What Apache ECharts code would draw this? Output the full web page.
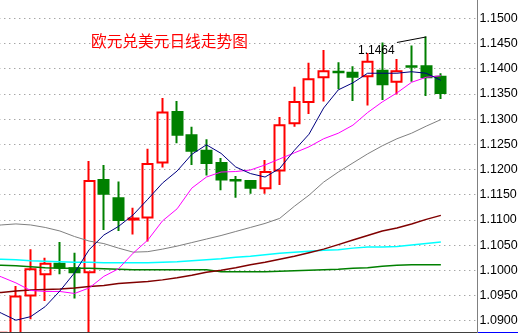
<!DOCTYPE html>
<html><head><meta charset="utf-8">
<script src="https://cdn.jsdelivr.net/npm/echarts@6/dist/echarts.min.js"></script>
<style>html,body{margin:0;padding:0;background:#fff}#c{width:521px;height:333px}</style>
</head><body><div id="c"></div>
<script>
const categories = Array.from({length: 34}, (_, i) => 'D' + (i + 1));
const opens  = [null, 1.0845, 1.0860, 1.0950, 1.0992, 1.1013, 1.1004, 1.0996, 1.1179, 1.1143, 1.1101, 1.1105, 1.1214, 1.1314, 1.1268, 1.1237, 1.1213, 1.1179, 1.1177, 1.1163, 1.1198, 1.1292, 1.1334, 1.1383, 1.1394, 1.1392, 1.1385, 1.1396, 1.1374, 1.1405, 1.1405, 1.1384, null, null];
const closes = [null, 1.0876, 1.0948, 1.1002, 1.1013, 1.1006, 1.0996, 1.1177, 1.1152, 1.1100, 1.1103, 1.1211, 1.1313, 1.1269, 1.1237, 1.1213, 1.1180, 1.1178, 1.1164, 1.1195, 1.1288, 1.1334, 1.1379, 1.1395, 1.1393, 1.1384, 1.1414, 1.1369, 1.1395, 1.1404, 1.1383, 1.1352, null, null];
const lows   = [null, 1.0835, 1.0850, 1.0903, 1.0939, 1.0992, 1.0944, 1.0870, 1.1080, 1.1078, 1.1071, 1.1057, 1.1204, 1.1252, 1.1209, 1.1188, 1.1159, 1.1144, 1.1152, 1.1152, 1.1169, 1.1285, 1.1310, 1.1335, 1.1359, 1.1336, 1.1327, 1.1338, 1.1349, 1.1374, 1.1346, 1.1340, null, null];
const highs  = [null, 1.0878, 1.0969, 1.1042, 1.1025, 1.1056, 1.1035, 1.1217, 1.1209, 1.1176, 1.1124, 1.1241, 1.1342, 1.1336, 1.1285, 1.1260, 1.1223, 1.1187, 1.1179, 1.1219, 1.1304, 1.1364, 1.1412, 1.1437, 1.1413, 1.1405, 1.1431, 1.1452, 1.1419, 1.1446, 1.1464, 1.1391, null, null];

const maNavy    = [1.0929, 1.0915, 1.0901, 1.0908, 1.0928, 1.0959, 1.0995, 1.1041, 1.1070, 1.1087, 1.1110, 1.1141, 1.1173, 1.1197, 1.1230, 1.1249, 1.1232, 1.1205, 1.1192, 1.1185, 1.1202, 1.1238, 1.1270, 1.1322, 1.1358, 1.1372, 1.1391, 1.1391, 1.1391, 1.1394, 1.1391, 1.1377, null, null];
const maMagenta = [1.0997, 1.0987, 1.0975, 1.0960, 1.0958, 1.0958, 1.0954, 1.0965, 1.0988, 1.1003, 1.1034, 1.1060, 1.1098, 1.1122, 1.1163, 1.1185, 1.1195, 1.1196, 1.1199, 1.1209, 1.1221, 1.1233, 1.1245, 1.1261, 1.1272, 1.1288, 1.1313, 1.1334, 1.1352, 1.1373, 1.1383, 1.1386, null, null];
const maGray    = [1.1087, 1.1090, 1.1092, 1.1090, 1.1085, 1.1078, 1.1067, 1.1058, 1.1053, 1.1044, 1.1036, 1.1037, 1.1042, 1.1048, 1.1055, 1.1062, 1.1069, 1.1077, 1.1085, 1.1093, 1.1103, 1.1127, 1.1149, 1.1175, 1.1195, 1.1213, 1.1231, 1.1247, 1.1261, 1.1272, 1.1286, 1.1299, null, null];
const maMaroon  = [1.0954, 1.0956, 1.0959, 1.0961, 1.0962, 1.0963, 1.0965, 1.0968, 1.0970, 1.0974, 1.0976, 1.0978, 1.0981, 1.0985, 1.0990, 1.0996, 1.1000, 1.1005, 1.1011, 1.1016, 1.1022, 1.1028, 1.1035, 1.1042, 1.1051, 1.1060, 1.1069, 1.1078, 1.1084, 1.1092, 1.1101, 1.1109, null, null];
const maCyan    = [1.1022, 1.1022, 1.1021, 1.1019, 1.1018, 1.1017, 1.1016, 1.1016, 1.1015, 1.1015, 1.1015, 1.1015, 1.1016, 1.1017, 1.1019, 1.1021, 1.1023, 1.1026, 1.1028, 1.1031, 1.1034, 1.1036, 1.1038, 1.1040, 1.1041, 1.1044, 1.1046, 1.1046, 1.1047, 1.1050, 1.1053, 1.1056, null, null];
const maGreen   = [1.1010, 1.1010, 1.1009, 1.1007, 1.1005, 1.1004, 1.1004, 1.1004, 1.1003, 1.1002, 1.1001, 1.1001, 1.1001, 1.1001, 1.1001, 1.1001, 1.0997, 1.0997, 1.0997, 1.0997, 1.0998, 1.0999, 1.1000, 1.1001, 1.1002, 1.1004, 1.1005, 1.1008, 1.1010, 1.1011, 1.1011, 1.1011, null, null];
const topLine   = [null, null, null, null, null, null, null, null, null, null, null, null, null, null, null, null, null, null, null, null, null, null, null, null, null, null, null, null, 1.1452, null, 1.1463, null, null, null];

const titleText = '欧元兑美元日线走势图';
const peakText = '1.1464';
const yMin = 1.085, yMax = 1.155, yStep = 0.005;

const candleData = categories.map((_, i) => opens[i] == null ? ['-', '-', '-', '-'] : [opens[i], closes[i], lows[i], highs[i]]);

function lineSeries(data, color, width) {
  return { type: 'line', data: data, showSymbol: false, symbol: 'none', smooth: false,
    connectNulls: true, lineStyle: { color: color, width: width }, z: 3, silent: true };
}

const chart = echarts.init(document.getElementById('c'), null, { renderer: 'canvas' });
chart.setOption({
  backgroundColor: '#ffffff',
  animation: false,
  title: { text: titleText, left: 91, top: 33, padding: 0,
    textStyle: { color: '#ff0000', fontSize: 15.7, fontWeight: 'normal', fontFamily: 'Noto Sans CJK SC', lineHeight: 16 } },
  grid: { left: -20.7, right: 43.5, top: -6.9, bottom: -12.9, containLabel: false, outerBoundsMode: 'none' },
  xAxis: { type: 'category', data: categories, boundaryGap: true,
    axisLine: { show: false }, axisTick: { show: false }, axisLabel: { show: false }, splitLine: { show: false } },
  yAxis: { type: 'value', position: 'right', min: yMin, max: yMax, interval: yStep,
    axisLine: { show: true, lineStyle: { color: '#808080', width: 1 } },
    axisTick: { show: false },
    axisLabel: { show: true, margin: 2, color: '#000', fontFamily: 'Liberation Sans', fontSize: 12.5,
      showMinLabel: false, showMaxLabel: false, padding: [7, 0, 0, 0],
      formatter: v => v.toFixed(4) },
    splitLine: { show: true, lineStyle: { color: '#808080', type: [1, 4], width: 1 } } },
  graphic: [
    { type: 'line', shape: { x1: 0, y1: 332.5, x2: 477, y2: 332.5 }, style: { stroke: '#404040', lineWidth: 1 }, z: 10 },
    { type: 'line', shape: { x1: 478, y1: 332.5, x2: 518, y2: 332.5 }, style: { stroke: '#0000ff', lineWidth: 1 }, z: 10 },
    { type: 'text', x: 358, y: 51, style: { text: peakText, fill: '#000', font: '12px "Liberation Sans"', textVerticalAlign: 'middle' }, z: 10 }
  ],
  series: [
    { type: 'candlestick', data: candleData, barWidth: 10.5,
      itemStyle: { color: 'transparent', color0: '#008000', borderColor: '#ff0000', borderColor0: '#008000', borderWidth: 2 }, z: 2 },
    lineSeries(maGreen, '#008000', 1.5),
    lineSeries(maCyan, '#00ffff', 1.5),
    lineSeries(maMaroon, '#800000', 1.5),
    lineSeries(maGray, '#808080', 1),
    lineSeries(maMagenta, '#ff00ff', 1),
    lineSeries(maNavy, '#000080', 1),
    lineSeries(topLine, '#000000', 1)
  ]
});
</script>
</body></html>
